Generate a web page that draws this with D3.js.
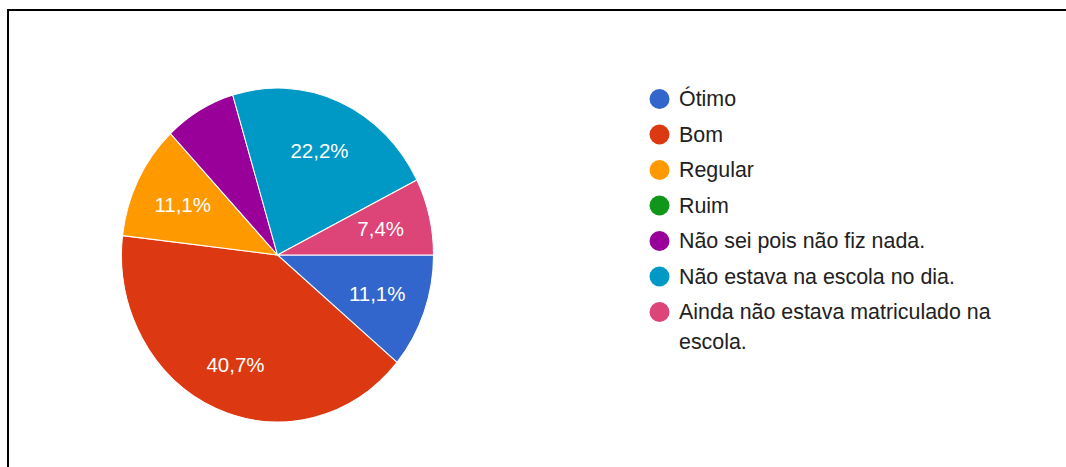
<!DOCTYPE html>
<html>
<head>
<meta charset="utf-8">
<script src="https://cdn.jsdelivr.net/npm/d3@7"></script>
<style>
  body { margin: 0; background: #fff; }
  svg { display: block; font-family: Arial, "Liberation Sans", sans-serif; }
</style>
</head>
<body>
<svg id="chart"></svg>
<script>
const categories = [
  "Ótimo",
  "Bom",
  "Regular",
  "Ruim",
  "Não sei pois não fiz nada.",
  "Não estava na escola no dia.",
  "Ainda não estava matriculado na escola."
];
const counts = [3, 11, 3, 0, 2, 6, 2];
const colors = ["#3366cc", "#dc3912", "#ff9900", "#109618", "#990099", "#0099c6", "#dd4477"];
// legend lines (the last label wraps)
const legendLines = [
  ["Ótimo"],
  ["Bom"],
  ["Regular"],
  ["Ruim"],
  ["Não sei pois não fiz nada."],
  ["Não estava na escola no dia."],
  ["Ainda não estava matriculado na", "escola."]
];

const width = 1066, height = 467;
const svg = d3.select("#chart").attr("width", width).attr("height", height);

// frame (top and left edges only)
svg.append("path")
  .attr("d", `M8,${height} L8,10 L${width},10`)
  .attr("fill", "none")
  .attr("stroke", "#000")
  .attr("stroke-width", 2);

const cx = 277.5, cy = 255, r = 156, sy = 1.07;
const total = d3.sum(counts);

const pie = d3.pie()
  .sort(null)
  .startAngle(Math.PI / 2)
  .endAngle(Math.PI / 2 + 2 * Math.PI)
  .value(d => d.value);

const data = pie(categories.map((c, i) => ({ name: c, value: counts[i], color: colors[i] })));

const arc = d3.arc().innerRadius(0).outerRadius(r);
const labelArc = d3.arc().innerRadius(r * 0.68).outerRadius(r * 0.68);

const pieG = svg.append("g")
  .attr("transform", `translate(${cx},${cy}) scale(1,${sy})`);

pieG.selectAll("path")
  .data(data.filter(d => d.value > 0))
  .join("path")
  .attr("d", arc)
  .attr("fill", d => d.data.color)
  .attr("stroke", "#fff")
  .attr("stroke-width", 1);

// percent labels, only on slices wide enough
const fmt = v => (v * 100).toFixed(1).replace(".", ",") + "%";
svg.append("g")
  .selectAll("text")
  .data(data.filter(d => d.value > 0 && d.data.name !== "Não sei pois não fiz nada."))
  .join("text")
  .attr("x", d => cx + labelArc.centroid(d)[0])
  .attr("y", d => cy + labelArc.centroid(d)[1] * sy + (d.index === 1 ? 5 : 0))
  .attr("text-anchor", "middle")
  .attr("dominant-baseline", "central")
  .attr("fill", "#fff")
  .attr("font-size", 20.5)
  .text(d => fmt(d.value / total));

// legend
const legendY = d3.scaleLinear().domain([0, 1]).range([99, 134.5]);
const legend = svg.append("g");
legendLines.forEach((lines, i) => {
  const y = legendY(i);
  legend.append("circle")
    .attr("cx", 659.5)
    .attr("cy", y)
    .attr("r", 10)
    .attr("fill", colors[i]);
  lines.forEach((line, j) => {
    legend.append("text")
      .attr("x", 679)
      .attr("y", y + j * 30)
      .attr("dominant-baseline", "central")
      .attr("font-size", 21.4)
      .attr("fill", "#212121")
      .text(line);
  });
});
</script>
</body>
</html>
